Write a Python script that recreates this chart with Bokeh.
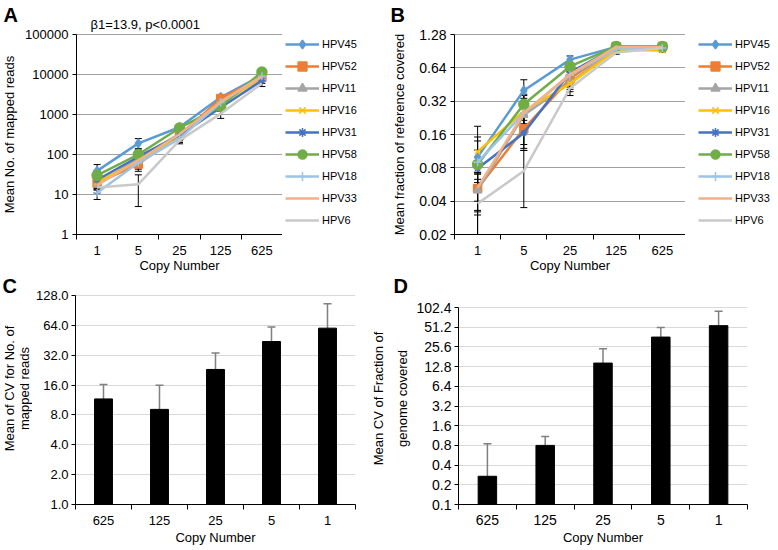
import numpy as np
from bokeh.plotting import figure
from bokeh.models import (Range1d, FixedTicker, NumeralTickFormatter, ColumnDataSource,
                          Whisker, TeeHead, Legend, LegendItem, Label)
from bokeh.layouts import row, column
from bokeh.embed import file_html
from bokeh.resources import INLINE

FONT = "Liberation Sans"

# ---------------- data ----------------
copy_numbers = ["1", "5", "25", "125", "625"]
series_names = ["HPV45", "HPV52", "HPV11", "HPV16", "HPV31", "HPV58", "HPV18", "HPV33", "HPV6"]

# Panel A: mean number of mapped reads (and SD)
reads_hpv45 = [39, 190, 480, 2700, 9500]
reads_hpv52 = [19, 58, 300, 2500, 8500]
reads_hpv11 = [18, 80, 330, 2000, 8000]
reads_hpv16 = [20, 68, 280, 1800, 8500]
reads_hpv31 = [23, 88, 300, 1500, 7000]
reads_hpv58 = [30, 100, 460, 1600, 11500]
reads_hpv18 = [11, 62, 250, 2000, 9000]
reads_hpv33 = [17, 72, 320, 2100, 9000]
reads_hpv6 = [15, 18, 225, 1050, 6000]

reads_sd_hpv45 = [17, 60, 60, 300, 1500]
reads_sd_hpv52 = [6, 20, 60, 400, 1200]
reads_sd_hpv11 = [5, 25, 70, 400, 1200]
reads_sd_hpv16 = [6, 25, 60, 400, 1500]
reads_sd_hpv31 = [8, 30, 60, 300, 1000]
reads_sd_hpv58 = [10, 40, 80, 300, 1500]
reads_sd_hpv18 = [3.5, 15, 50, 400, 1500]
reads_sd_hpv33 = [6, 25, 70, 400, 1500]
reads_sd_hpv6 = [4, 13, 40, 250, 1000]

# Panel B: mean fraction of reference covered (and SD)
cover_hpv45 = [0.100, 0.40, 0.76, 0.99, 0.99]
cover_hpv52 = [0.052, 0.18, 0.51, 1.00, 1.00]
cover_hpv11 = [0.050, 0.24, 0.47, 0.97, 0.99]
cover_hpv16 = [0.112, 0.26, 0.46, 0.93, 0.92]
cover_hpv31 = [0.079, 0.165, 0.58, 0.99, 0.99]
cover_hpv58 = [0.086, 0.30, 0.66, 1.00, 1.00]
cover_hpv18 = [0.090, 0.25, 0.55, 0.95, 0.97]
cover_hpv33 = [0.053, 0.25, 0.56, 0.99, 0.99]
cover_hpv6 = [0.038, 0.075, 0.42, 0.88, 0.97]

cover_sd_hpv45 = [0.09, 0.10, 0.06, 0.01, 0.01]
cover_sd_hpv52 = [0.02, 0.06, 0.08, 0.01, 0.01]
cover_sd_hpv11 = [0.02, 0.06, 0.06, 0.02, 0.01]
cover_sd_hpv16 = [0.04, 0.08, 0.07, 0.03, 0.03]
cover_sd_hpv31 = [0.02, 0.05, 0.06, 0.01, 0.01]
cover_sd_hpv58 = [0.03, 0.06, 0.05, 0.01, 0.01]
cover_sd_hpv18 = [0.05, 0.12, 0.05, 0.03, 0.02]
cover_sd_hpv33 = [0.02, 0.05, 0.06, 0.01, 0.01]
cover_sd_hpv6 = [0.025, 0.04, 0.06, 0.03, 0.02]

# Panel C: mean CV for number of mapped reads
cv_copy_numbers = ["625", "125", "25", "5", "1"]
cv_reads = [11.6, 9.1, 23.0, 44.0, 60.0]
cv_reads_err = [4.6, 6.8, 10.7, 17.5, 46.0]

# Panel D: mean CV of fraction of genome covered
cv_cover = [0.27, 0.80, 14.5, 36.2, 54.1]
cv_cover_err = [0.58, 0.29, 9.4, 14.7, 36.0]

# axis ticks
reads_ticks = [1, 10, 100, 1000, 10000, 100000]
cover_ticks = [0.02, 0.04, 0.08, 0.16, 0.32, 0.64, 1.28]
cv_reads_ticks = [1, 2, 4, 8, 16, 32, 64, 128]
cv_cover_ticks = [0.1, 0.2, 0.4, 0.8, 1.6, 3.2, 6.4, 12.8, 25.6, 51.2, 102.4]

reads_all = [reads_hpv45, reads_hpv52, reads_hpv11, reads_hpv16, reads_hpv31,
             reads_hpv58, reads_hpv18, reads_hpv33, reads_hpv6]
reads_sd_all = [reads_sd_hpv45, reads_sd_hpv52, reads_sd_hpv11, reads_sd_hpv16, reads_sd_hpv31,
                reads_sd_hpv58, reads_sd_hpv18, reads_sd_hpv33, reads_sd_hpv6]
cover_all = [cover_hpv45, cover_hpv52, cover_hpv11, cover_hpv16, cover_hpv31,
             cover_hpv58, cover_hpv18, cover_hpv33, cover_hpv6]
cover_sd_all = [cover_sd_hpv45, cover_sd_hpv52, cover_sd_hpv11, cover_sd_hpv16, cover_sd_hpv31,
                cover_sd_hpv58, cover_sd_hpv18, cover_sd_hpv33, cover_sd_hpv6]

# ---------------- styles ----------------
colors = ["#5B9BD5", "#ED7D31", "#A5A5A5", "#FFC000", "#4472C4",
          "#70AD47", "#9DC3E6", "#F4B183", "#C9C9C9"]
markers = ["diamond", "square", "triangle", "x", "asterisk", "circle", "cross", None, None]
msizes = [9, 8, 8, 7, 7, 10, 8, 0, 0]

TOP_FRAME_H, TOP_BOTTOM = 234, 42
BOT_FRAME_H, BOT_BOTTOM = 228, 44


def base_fig(frame_w, frame_h, left, right, bottom, x_range, y_range, log=True, axes=True):
    kw = dict(frame_width=frame_w, frame_height=frame_h,
              min_border_left=left, min_border_right=right,
              min_border_top=0, min_border_bottom=bottom,
              x_range=x_range, y_range=y_range,
              output_backend="svg", toolbar_location=None, title=None)
    if log:
        kw["y_axis_type"] = "log"
    if not axes:
        kw["x_axis_location"] = None
        kw["y_axis_location"] = None
    p = figure(**kw)
    p.outline_line_color = None
    return p


def strip(width, frame_h, bottom):
    s = base_fig(width, frame_h, 0, 0, bottom, Range1d(0, 1), Range1d(0, 1), log=False, axes=False)
    s.grid.visible = False
    return s


def cat_xaxis(p, labels, font_size, tick_standoff, label_standoff):
    n = len(labels)
    centers = [i + 0.5 for i in range(n)]
    bounds = [float(i) for i in range(n + 1)]
    ax = p.xaxis[0]
    ax.ticker = FixedTicker(ticks=centers, minor_ticks=bounds)
    ax.major_label_overrides = {c: lab for c, lab in zip(centers, labels)}
    ax.major_tick_out = 0
    ax.major_tick_in = 0
    ax.minor_tick_out = 5
    ax.minor_tick_in = 0
    ax.minor_tick_line_color = "black"
    ax.major_label_standoff = tick_standoff
    ax.major_label_text_font = FONT
    ax.major_label_text_font_size = font_size
    ax.major_label_text_color = "black"
    ax.axis_line_color = "black"
    ax.axis_label = "Copy Number"
    ax.axis_label_text_font = FONT
    ax.axis_label_text_font_size = "13px"
    ax.axis_label_text_font_style = "normal"
    ax.axis_label_text_color = "black"
    ax.axis_label_standoff = label_standoff
    return centers


def style_yaxis(p, ticks, fmt, font_size, grid_color, standoff=4):
    ay = p.yaxis[0]
    ay.ticker = FixedTicker(ticks=ticks, minor_ticks=[])
    ay.formatter = NumeralTickFormatter(format=fmt)
    ay.bounds = (ticks[0], ticks[-1])
    ay.major_tick_out = 4
    ay.major_tick_in = 0
    ay.major_label_standoff = standoff
    ay.major_label_text_font = FONT
    ay.major_label_text_font_size = font_size
    ay.major_label_text_color = "black"
    ay.axis_line_color = "black"
    p.xgrid.visible = False
    p.ygrid.grid_line_color = grid_color
    p.ygrid.grid_line_width = 1


def add_text(p, text, x, y, size="13px", bold=False, angle=0.0, align="left"):
    p.add_layout(Label(x=x, y=y, x_units="screen", y_units="screen", text=text,
                       angle=angle, text_font=FONT, text_font_size=size,
                       text_font_style="bold" if bold else "normal",
                       text_align=align, text_baseline="middle", text_color="black"))


def line_panel(vals_all, sd_all, y_start, y_end, ticks, fmt, frame_left, frame_w, tick_font):
    n = len(copy_numbers)
    p = base_fig(frame_w, TOP_FRAME_H, frame_left, 0, TOP_BOTTOM,
                 Range1d(0, n), Range1d(y_start, y_end))
    xs = cat_xaxis(p, copy_numbers, "13px", 6, 0)
    style_yaxis(p, ticks, fmt, tick_font, "#A0A0A0")

    for vals, sds, col, mk, ms in zip(vals_all, sd_all, colors, markers, msizes):
        v = np.array(vals, dtype=float)
        s = np.array(sds, dtype=float)
        src = ColumnDataSource(dict(x=xs, y=v, up=v + s, lo=np.maximum(v - s, y_start)))
        p.line("x", "y", source=src, line_color=col, line_width=2.5)
        if mk is not None:
            p.scatter("x", "y", source=src, marker=mk, size=ms,
                      fill_color=col, line_color=col, line_width=1.5)
        p.add_layout(Whisker(source=src, base="x", upper="up", lower="lo",
                             line_color="black", line_width=1,
                             upper_head=TeeHead(size=7, line_color="black", line_width=1),
                             lower_head=TeeHead(size=7, line_color="black", line_width=1)))
    return p


def legend_strip(width, legend_x):
    s = strip(width, TOP_FRAME_H, TOP_BOTTOM)
    items = []
    nan = [float("nan")]
    for name, col, mk, ms in zip(series_names, colors, markers, msizes):
        # legend proxies: a single undefined point, so only the legend swatch is drawn
        rends = [s.line(x=nan, y=nan, line_color=col, line_width=2.5)]
        if mk is not None:
            rends.append(s.scatter(x=nan, y=nan, marker=mk, size=ms - 1,
                                   fill_color=col, line_color=col, line_width=1.5))
        items.append(LegendItem(label=name, renderers=rends))
    legend = Legend(items=items, location=(legend_x, 3), orientation="vertical",
                    glyph_width=34, glyph_height=22, label_height=22, spacing=0,
                    padding=0, margin=0, label_standoff=3,
                    border_line_color=None, background_fill_alpha=0,
                    label_text_font=FONT, label_text_font_size="11px",
                    label_text_color="black")
    s.add_layout(legend)
    return s


def bar_panel(labels, vals, errs, y_start, y_end, ticks, fmt, tick_font,
              frame_left, frame_w, right_border, tick_standoff, xtick_standoff):
    p = base_fig(frame_w, BOT_FRAME_H, frame_left, right_border, BOT_BOTTOM,
                 Range1d(0, len(labels)), Range1d(y_start, y_end))
    xs = cat_xaxis(p, labels, tick_font, xtick_standoff, 2)
    style_yaxis(p, ticks, fmt, tick_font, "#D9D9D9", tick_standoff)
    v = np.array(vals, dtype=float)
    e = np.array(errs, dtype=float)
    src = ColumnDataSource(dict(x=xs, top=v, up=v + e))
    p.vbar(x="x", top="top", bottom=y_start, width=0.32, source=src,
           fill_color="black", line_color="black")
    p.add_layout(Whisker(source=src, base="x", upper="up", lower="top",
                         line_color="#808080", line_width=1.5,
                         upper_head=TeeHead(size=8, line_color="#808080", line_width=1.5),
                         lower_head=None))
    return p


HALF_PI = np.pi / 2

# ---------------- top row ----------------
sA = strip(20, TOP_FRAME_H, TOP_BOTTOM)
add_text(sA, "A", 3, 219.5, size="20px", bold=True)
add_text(sA, "Mean No. of mapped reads", 9, 100, angle=HALF_PI, align="center")

# frame spans the whole height; the axis stops at 100000 (range end leaves room for the note)
pA = line_panel(reads_all, reads_sd_all, 1, 10 ** 5.85, reads_ticks, "0", 56, 206, "13px")
add_text(pA, "β1=13.9, p<0.0001", 14, 210)
lA = legend_strip(108, 3)

sB = strip(20, TOP_FRAME_H, TOP_BOTTOM)
add_text(sB, "B", 0, 219.5, size="20px", bold=True)
add_text(sB, "Mean fraction of reference covered", 9, 100, angle=HALF_PI, align="center")

pB = line_panel(cover_all, cover_sd_all, 0.02, 2.6, cover_ticks, "0.00", 44, 231, "14px")
lB = legend_strip(91, 13)

# ---------------- bottom row ----------------
sC = strip(32, BOT_FRAME_H, BOT_BOTTOM)
add_text(sC, "C", 2, 219, size="20px", bold=True)
add_text(sC, "Mean of CV for No. of", 9, 116, angle=HALF_PI, align="center")
add_text(sC, "mapped reads", 24, 116, angle=HALF_PI, align="center")

pC = bar_panel(cv_copy_numbers, cv_reads, cv_reads_err, 1, 199, cv_reads_ticks, "0.0", "13px",
               40, 280, 16, 3, 6)

sD = strip(42, BOT_FRAME_H, BOT_BOTTOM)
add_text(sD, "D", 22, 219, size="20px", bold=True)
add_text(sD, "Mean CV of Fraction of", 7, 106, angle=HALF_PI, align="center")
add_text(sD, "genome covered", 31, 106, angle=HALF_PI, align="center")

pD = bar_panel(cv_copy_numbers, cv_cover, cv_cover_err, 0.1, 305, cv_cover_ticks, "0.0", "14px",
               42, 289, 35, 3, 5)

layout = column(row(sA, pA, lA, sB, pB, lB), row(sC, pC, sD, pD))

open("out.html", "w").write(file_html(layout, INLINE))
